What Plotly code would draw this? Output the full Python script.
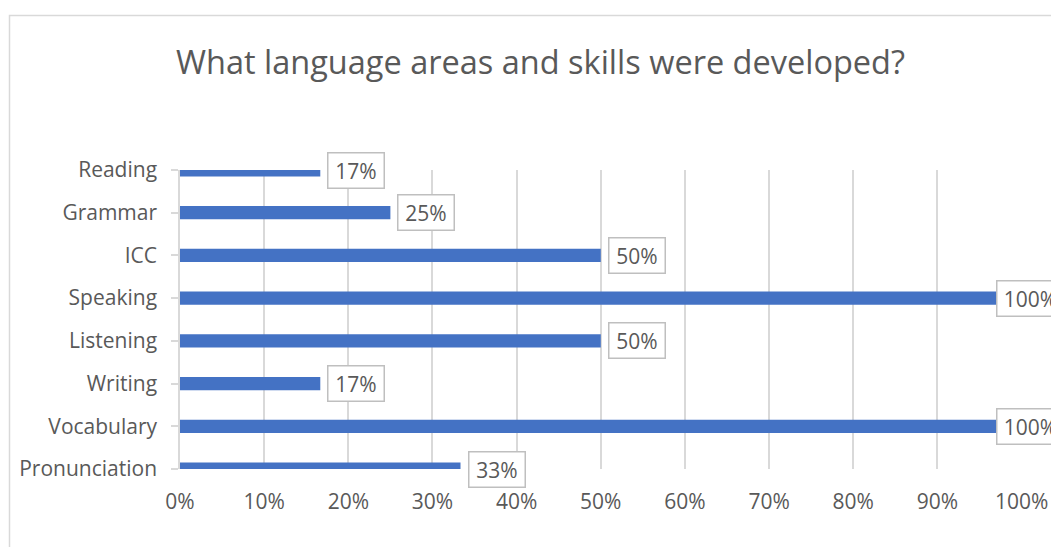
import plotly.graph_objects as go

# Survey results: share of respondents per language area / skill
skills = ["Reading", "Grammar", "ICC", "Speaking", "Listening",
          "Writing", "Vocabulary", "Pronunciation"]
shares = [0.1667, 0.25, 0.5, 1.0, 0.5, 0.1667, 1.0, 0.3333]
x_ticks = [0, 0.1, 0.2, 0.3, 0.4, 0.5, 0.6, 0.7, 0.8, 0.9, 1.0]
x_tick_labels = ["0%", "10%", "20%", "30%", "40%", "50%",
                 "60%", "70%", "80%", "90%", "100%"]

FONT = "Open Sans"
TEXT = "#595959"
GRID = "#d9d9d9"
BAR = "#4472C4"

W, H = 1051, 547
L, R, T, B = 180, 29, 170, 78

# categories placed on tick marks, top to bottom
n = len(skills)
ypos = [n - 1 - i for i in range(n)]

fig = go.Figure()
fig.add_trace(go.Bar(
    x=shares, y=ypos, orientation="h",
    marker=dict(color=BAR, line=dict(width=0)),
    width=0.31, hoverinfo="skip",
))

annotations = []
for v, y in zip(shares, ypos):
    label = f"{v:.0%}"
    annotations.append(dict(
        x=v, y=y, xref="x", yref="y",
        text=label, showarrow=False,
        xanchor="left", yanchor="middle",
        xshift=7 if v < 1 else -26,
        width=55 if len(label) < 4 else 66, height=34, align="center",
        font=dict(family=FONT, size=21, color=TEXT),
        bgcolor="white", bordercolor="#bfbfbf", borderwidth=1.5, borderpad=0,
    ))

# chart title
annotations.append(dict(
    x=540 / W, y=1 - 62 / H, xref="paper", yref="paper",
    text="What language areas and skills were developed?",
    showarrow=False, xanchor="center", yanchor="middle",
    font=dict(family=FONT, size=32.5, color=TEXT),
))

pw = W - L - R
ph = H - T - B

fig.update_layout(
    width=W, height=H,
    margin=dict(l=L, r=R, t=T, b=B, pad=0, autoexpand=False),
    paper_bgcolor="white", plot_bgcolor="white",
    showlegend=False,
    annotations=[
        {**a, "x": (a["x"] * W - L) / pw, "y": (a["y"] * H - B) / ph}
        if a["xref"] == "paper" else a for a in annotations
    ],
    shapes=[dict(
        type="rect", xref="paper", yref="paper",
        x0=(9.5 - L) / pw, x1=1.2, y0=-0.5, y1=(H - 15.5 - B) / ph,
        line=dict(color=GRID, width=1.5), layer="below",
    )],
    xaxis=dict(
        range=[0, 1.0005], tickvals=x_ticks, ticktext=x_tick_labels,
        showgrid=True, gridcolor=GRID, gridwidth=1.5,
        zeroline=False, showline=False, ticks="",
        tickfont=dict(family=FONT, size=21, color=TEXT),
        ticklabelstandoff=18, automargin=False,
    ),
    yaxis=dict(
        range=[0, n - 1], tickvals=ypos, ticktext=skills,
        showgrid=False, zeroline=False,
        showline=True, linecolor=GRID, linewidth=1.5,
        ticks="outside", ticklen=7, tickcolor=GRID, tickwidth=1.5,
        tickfont=dict(family=FONT, size=21, color=TEXT),
        ticklabelstandoff=10, automargin=False,
    ),
)

fig.write_html("out.html")
